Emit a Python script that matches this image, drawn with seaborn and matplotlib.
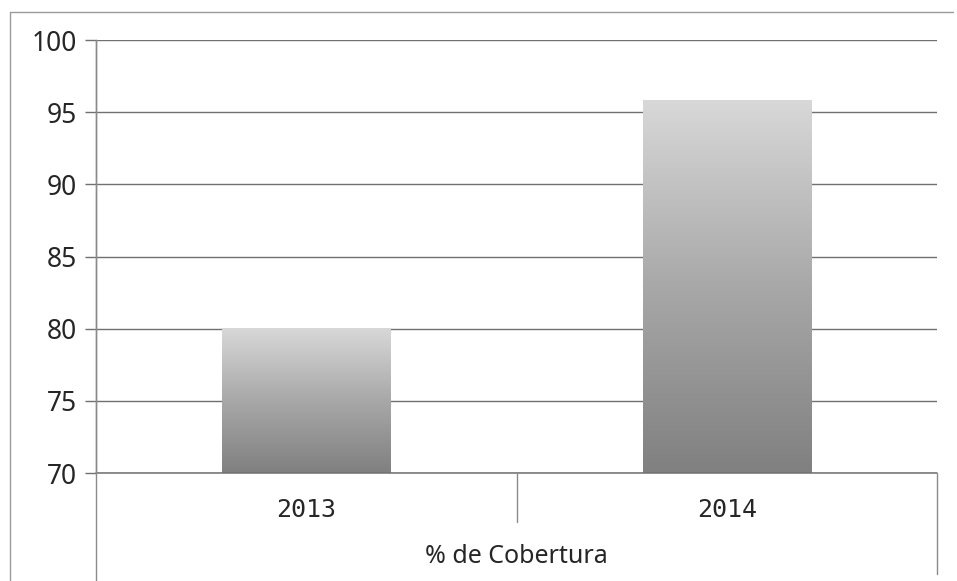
import numpy as np
import pandas as pd
import seaborn as sns
import matplotlib.pyplot as plt
from matplotlib.lines import Line2D

years = ["2013", "2014"]
coverage = [80.0, 95.8]
y_ticks = [70, 75, 80, 85, 90, 95, 100]
axis_title = "% de Cobertura"

df = pd.DataFrame({"Año": years, "Cobertura": coverage})

sns.set_style("white")
plt.rcParams["font.family"] = ["Noto Sans", "DejaVu Sans"]

W, H = 957, 581
fig = plt.figure(figsize=(W / 100, H / 100), dpi=100)

# axes box in pixel terms: left 96, right 937, top 40, bottom 473
left, right, top, bottom = 96, 937, 40, 473
ax = fig.add_axes([left / W, 1 - bottom / H, (right - left) / W, (bottom - top) / H])

sns.barplot(data=df, x="Año", y="Cobertura", ax=ax, width=0.4, color="#b0b0b0")

# grey vertical gradient in each bar (light top, dark bottom)
grad = np.linspace(0, 1, 256).reshape(-1, 1)
cmap = sns.blend_palette(["#808080", "#a8a8a8", "#d8d8d8"], as_cmap=True)
for p in ax.patches:
    x0, w = p.get_x(), p.get_width()
    h_top = p.get_y() + p.get_height()
    p.set_facecolor("none")
    p.set_edgecolor("none")
    ax.imshow(grad, extent=[x0, x0 + w, 70, h_top], origin="lower",
              cmap=cmap, aspect="auto", zorder=2)
ax.set_xlim(-0.5, 1.5)
ax.set_ylim(70, 100)
ax.set_yticks(y_ticks)

# gridlines and spines
ax.yaxis.grid(True, color="#707070", linewidth=1.0, zorder=0)
ax.set_axisbelow(True)
for s in ["top", "right", "bottom"]:
    ax.spines[s].set_visible(False)
ax.spines["left"].set_color("#8a8a8a")
ax.spines["left"].set_linewidth(1.0)
ax.tick_params(axis="y", length=8, width=1.0, color="#707070",
               labelsize=19, pad=6, left=True)
ax.tick_params(axis="x", length=0, labelsize=18, pad=18)
ax.set_xlabel(axis_title, fontsize=18, labelpad=16)
ax.set_ylabel("")
for lbl in ax.get_xticklabels():
    lbl.set_fontfamily(["DejaVu Sans Mono", "DejaVu Sans"])
    lbl.set_fontsize(18)

# table-like lines below the axis
def px_line(x0, y0, x1, y1, **kw):
    fig.add_artist(Line2D([x0 / W, x1 / W], [1 - y0 / H, 1 - y1 / H],
                          transform=fig.transFigure, **kw))

grey = dict(color="#8a8a8a", linewidth=1.0)
px_line(left, bottom, right, bottom, color="#707070", linewidth=1.1)
px_line(left, top, left, H, **grey)
px_line((left + right) / 2, bottom, (left + right) / 2, 522, **grey)
px_line(right, bottom, right, 574, **grey)

# outer frame of the chart area
px_line(10, 12, 953, 12, color="#9a9a9a", linewidth=1.0)
px_line(10, 12, 10, H, color="#9a9a9a", linewidth=1.0)

fig.savefig("out.png", dpi=100)
